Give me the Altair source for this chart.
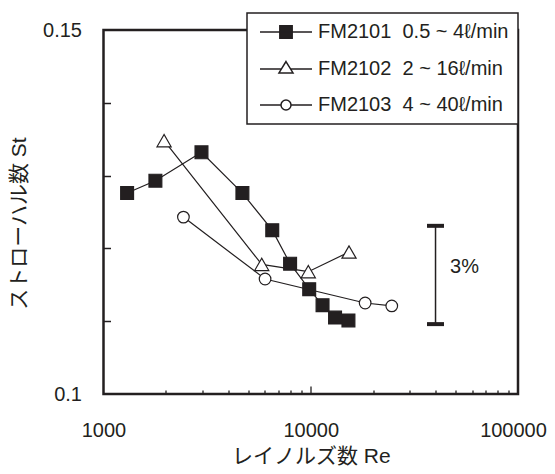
import altair as alt
import pandas as pd

INK = "#231f20"
FONT = "Liberation Sans, Arial, Noto Sans CJK JP, sans-serif"

# ---- data ----
series_codes = ["FM2101", "FM2102", "FM2103"]
series_ranges = ["0.5 ~ 4\u2113/min", "2 ~ 16\u2113/min", "4 ~ 40\u2113/min"]

fm2101_re = [1300, 1780, 2970, 4680, 6520, 7950, 9830, 11400, 13100, 15200]
fm2101_st = [0.1276, 0.1293, 0.1332, 0.1276, 0.1225, 0.1179, 0.1144, 0.1122, 0.1105, 0.1101]
fm2102_re = [1960, 5800, 9730, 15300]
fm2102_st = [0.1348, 0.1178, 0.1168, 0.1195]
fm2103_re = [2430, 6020, 18300, 24600]
fm2103_st = [0.1243, 0.1158, 0.1125, 0.1121]

bar_re = [40000]
bar_low = [0.1096]
bar_high = [0.1231]
bar_text = ["3%"]
bar_text_re = [47000]
bar_text_st = [0.1175]

x_label_values = [1000, 10000, 100000]
x_minor_ticks = [2000, 3000, 4000, 5000, 6000, 7000, 8000, 9000,
                 20000, 30000, 40000, 50000, 60000, 70000, 80000, 90000]
x_major_ticks = [10000]
y_label_values = [0.1, 0.15]
y_minor_ticks = [0.11, 0.12, 0.13, 0.14]

x_title = "レイノルズ数 Re"
y_title = "ストローハル数 St"

# ---- tables ----
labels = [f"{c}\u00a0\u00a0{r}" for c, r in zip(series_codes, series_ranges)]
rows = []
for lab, xs, ys in zip(labels, [fm2101_re, fm2102_re, fm2103_re], [fm2101_st, fm2102_st, fm2103_st]):
    for x, y in zip(xs, ys):
        rows.append({"series": lab, "Re": x, "St": y})
df = pd.DataFrame(rows)
bar_df = pd.DataFrame({"Re": bar_re, "lo": bar_low, "hi": bar_high})
cap_df = pd.DataFrame({"Re": bar_re * 2, "St": bar_low + bar_high})
txt_df = pd.DataFrame({"Re": bar_text_re, "St": bar_text_st, "t": bar_text})

W, H = 414.5, 364
x_scale = alt.Scale(type="log", domain=[1000, 100000])
y_scale = alt.Scale(domain=[0.1, 0.15], nice=False, zero=False)

# legend symbol paths (line through marker), unit = sqrt(symbolSize)/2 px
sq = "M-4,0H4M-0.95,-0.95H0.95V0.95H-0.95Z"
tri = "M-4,0H-0.71M0.71,0H4M0,-1.15L1.08,0.6L-1.08,0.6Z"
circ = "M-4,0H-0.77M0.77,0H4M-0.77,0A0.77,0.77,0,1,1,0.77,0A0.77,0.77,0,1,1,-0.77,0Z"

marker_shapes = ["square", "triangle-up", "circle"]
marker_fills = [INK, "white", "white"]
marker_sizes = [165, 200, 135]

legend = alt.Legend(
    title=None, orient="none", legendX=143.5, legendY=-17,
    fillColor="white", strokeColor=INK, padding=9, rowPadding=16,
    symbolSize=169, symbolStrokeWidth=1.5, symbolStrokeColor=INK, symbolOpacity=1,
    symbolOffset=20, labelOffset=22, labelFontSize=20, labelFont=FONT,
    labelColor=INK, labelLimit=0,
)

lines = alt.Chart(df).mark_line(color=INK, strokeWidth=1.2).encode(
    x=alt.X("Re:Q", scale=x_scale, axis=alt.Axis(
        orient="bottom", values=x_label_values, format="d", ticks=False, domain=False,
        grid=False, labelPadding=36, labelBaseline="middle", labelFlush=False,
        labelOffset={"condition": {"test": "datum.value >= 100000", "value": -5}, "value": 0},
        labelFontSize=20, labelFont=FONT, labelColor=INK,
        title=x_title, titleFont=FONT, titleFontSize=21, titleFontWeight="normal",
        titleColor=INK, titleX=W / 2, titleY=62, titleBaseline="middle")),
    y=alt.Y("St:Q", scale=y_scale, axis=alt.Axis(
        orient="left", values=y_label_values, format=".2~f", ticks=False, domain=False,
        grid=False, labelPadding=22, labelBaseline="middle", labelFlush=False,
        labelFontSize=20, labelFont=FONT, labelColor=INK,
        title=y_title, titleFont=FONT, titleFontSize=21, titleFontWeight="normal",
        titleColor=INK, titleX=-84, titleY=193, titleAngle=270, titleBaseline="middle")),
    detail="series:N",
)

point_layers = []
for i, lab in enumerate(labels):
    if i == 0:
        xax = alt.Axis(orient="top", offset=-H, values=x_minor_ticks, labels=False, domain=False,
                       grid=False, ticks=True, tickSize=4, tickWidth=1.3, tickColor=INK, title=None)
        yax = alt.Axis(orient="right", offset=-W, values=y_minor_ticks, labels=False, domain=False,
                       grid=False, ticks=True, tickSize=7, tickWidth=1.5, tickColor=INK, title=None)
    else:
        xax = None
        yax = None
    point_layers.append(
        alt.Chart(df).transform_filter(alt.datum.series == lab).mark_point(
            shape=marker_shapes[i], fill=marker_fills[i], size=marker_sizes[i],
            opacity=1, fillOpacity=1, strokeWidth=1.2, stroke=INK,
        ).encode(
            x=alt.X("Re:Q", scale=x_scale, axis=xax),
            y=alt.Y("St:Q", scale=y_scale, axis=yax),
        )
    )

# legend carrier: zero-size marks at the same points, only its legend is seen
legend_layer = alt.Chart(df).mark_point(size=0, opacity=1, strokeWidth=1.5).encode(
    x=alt.X("Re:Q", scale=x_scale, axis=None),
    y=alt.Y("St:Q", scale=y_scale, axis=None),
    shape=alt.Shape("series:N", scale=alt.Scale(domain=labels, range=[sq, tri, circ]), legend=legend),
    fill=alt.Fill("series:N", scale=alt.Scale(domain=labels, range=marker_fills), legend=legend),
    stroke=alt.Stroke("series:N", scale=alt.Scale(domain=labels, range=[INK, INK, INK]), legend=legend),
)

bar = alt.Chart(bar_df).mark_rule(color=INK, strokeWidth=1.5).encode(
    x=alt.X("Re:Q", scale=x_scale, axis=alt.Axis(
        orient="top", offset=-H, values=x_major_ticks, labels=False, domain=False,
        grid=False, ticks=True, tickSize=8, tickWidth=1.3, tickColor=INK, title=None)),
    y=alt.Y("lo:Q", scale=y_scale, axis=None),
    y2="hi:Q",
)

caps = alt.Chart(cap_df).mark_tick(orient="horizontal", color=INK, size=17, thickness=4, opacity=1).encode(
    x=alt.X("Re:Q", scale=x_scale, axis=None),
    y=alt.Y("St:Q", scale=y_scale, axis=None),
)

txt = alt.Chart(txt_df).mark_text(align="left", baseline="middle", fontSize=20, font=FONT, color=INK).encode(
    x=alt.X("Re:Q", scale=x_scale, axis=None),
    y=alt.Y("St:Q", scale=y_scale, axis=None),
    text="t:N",
)

chart = alt.layer(lines, bar, caps, txt, *point_layers, legend_layer).resolve_axis(
    x="independent", y="independent"
).properties(
    width=W, height=H,
    autosize=alt.AutoSizeParams(type="none"),
    padding={"left": 95.5, "top": 22, "right": 29, "bottom": 72},
).configure_view(stroke=INK, strokeWidth=2.5).configure_legend(strokeWidth=1.5)

chart.save("out.html", embed_options={"renderer": "svg", "actions": False})
